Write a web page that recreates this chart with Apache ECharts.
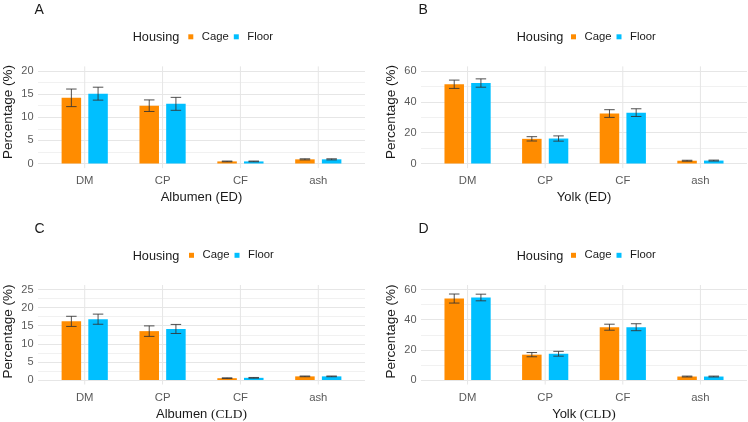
<!DOCTYPE html>
<html><head><meta charset="utf-8">
<script src="https://cdn.jsdelivr.net/npm/echarts@6/dist/echarts.min.js"></script>
<style>html,body{margin:0;padding:0;background:#fff}#c{width:748px;height:422px}</style>
</head><body><div id="c"></div>
<script>
// ---- Data ----
const categories = ['DM', 'CP', 'CF', 'ash'];
const groupNames = ['Cage', 'Floor'];

// Panel A: Albumen (ED)
const albumenED_cage = [14.2, 12.5, 0.45, 0.9];
const albumenED_cage_sd = [1.9, 1.25, 0.08, 0.12];
const albumenED_floor = [15.1, 12.9, 0.45, 0.9];
const albumenED_floor_sd = [1.4, 1.4, 0.08, 0.12];
const yTicks_albumenED = [0, 5, 10, 15, 20];

// Panel B: Yolk (ED)
const yolkED_cage = [51.4, 16.0, 32.4, 1.8];
const yolkED_cage_sd = [2.7, 1.4, 2.5, 0.3];
const yolkED_floor = [52.2, 16.2, 33.0, 1.9];
const yolkED_floor_sd = [2.7, 1.7, 2.5, 0.3];
const yTicks_yolkED = [0, 20, 40, 60];

// Panel C: Albumen (CLD)
const albumenCLD_cage = [16.2, 13.5, 0.5, 1.0];
const albumenCLD_cage_sd = [1.4, 1.45, 0.1, 0.1];
const albumenCLD_floor = [16.8, 14.1, 0.6, 1.0];
const albumenCLD_floor_sd = [1.4, 1.25, 0.1, 0.1];
const yTicks_albumenCLD = [0, 5, 10, 15, 20, 25];

// Panel D: Yolk (CLD)
const yolkCLD_cage = [54.0, 16.8, 35.0, 2.3];
const yolkCLD_cage_sd = [3.0, 1.4, 2.0, 0.3];
const yolkCLD_floor = [54.7, 17.4, 35.0, 2.3];
const yolkCLD_floor_sd = [2.2, 1.6, 2.3, 0.3];
const yTicks_yolkCLD = [0, 20, 40, 60];

const yTitle = 'Percentage (%)';
const legendTitle = 'Housing';

// ---- Styling ----
const FONT = '"Liberation Sans", Arial, sans-serif';
const SERIF = '"Liberation Serif", "Times New Roman", serif';
const COLORS = ['#FF8C00', '#00BFFF'];
const BAR_W = 19.5, BAR_GAP_PX = 7.2;
const OFFSET = (BAR_W + BAR_GAP_PX) / 2;
const CAP_W = 10.5;

const panels = [
  { letter: 'A', xName: 'Albumen (ED)', rich: false, yTicks: yTicks_albumenED,
    vals: [albumenED_cage, albumenED_floor], sds: [albumenED_cage_sd, albumenED_floor_sd],
    grid: { left: 38, top: 71, width: 327, height: 92.5 }, letterPos: [34.5, 3.5], housingPos: [132.7, 37.8], legendPos: [188.3, 31.3], yTitlePos: [8.3, 112] },
  { letter: 'B', xName: 'Yolk (ED)', rich: false, yTicks: yTicks_yolkED,
    vals: [yolkED_cage, yolkED_floor], sds: [yolkED_cage_sd, yolkED_floor_sd],
    grid: { left: 421, top: 71, width: 326, height: 92.5 }, letterPos: [418.5, 3.5], housingPos: [516.7, 37.8], legendPos: [571, 31.3], yTitlePos: [391.5, 112] },
  { letter: 'C', xName: 'Albumen', rich: true, yTicks: yTicks_albumenCLD,
    vals: [albumenCLD_cage, albumenCLD_floor], sds: [albumenCLD_cage_sd, albumenCLD_floor_sd],
    grid: { left: 38, top: 289.5, width: 327, height: 92.5 }, letterPos: [34.5, 222], housingPos: [132.7, 256.3], legendPos: [189, 249.8], yTitlePos: [8.3, 331.5] },
  { letter: 'D', xName: 'Yolk', rich: true, yTicks: yTicks_yolkCLD,
    vals: [yolkCLD_cage, yolkCLD_floor], sds: [yolkCLD_cage_sd, yolkCLD_floor_sd],
    grid: { left: 421, top: 289.5, width: 326, height: 92.5 }, letterPos: [418.5, 222], housingPos: [516.7, 256.3], legendPos: [571, 249.8], yTitlePos: [391.5, 331.5] }
];

const option = {
  animation: false,
  backgroundColor: '#ffffff',
  grid: [], xAxis: [], yAxis: [], series: [], legend: [], graphic: []
};

panels.forEach((p, k) => {
  option.grid.push(Object.assign({ containLabel: false }, p.grid));
  option.xAxis.push({
    type: 'value', gridIndex: k, min: 0.4, max: 4.6,
    axisLine: { show: false }, axisTick: { show: false }, splitLine: { show: false },
    axisLabel: {
      customValues: categories.map((c, i) => i + 1),
      formatter: v => (Math.abs(v - Math.round(v)) < 1e-6 && categories[Math.round(v) - 1]) || '',
      margin: 12, color: '#5a5a5a', fontSize: 11.3, fontFamily: FONT
    },
    name: p.rich ? '{a|' + p.xName + ' }{b|(CLD)}' : p.xName,
    nameLocation: 'middle', nameGap: 27,
    nameTextStyle: p.rich ? {
      rich: {
        a: { fontSize: 13, fontFamily: FONT, color: '#1a1a1a' },
        b: { fontSize: 13.5, fontFamily: SERIF, color: '#1a1a1a' }
      }
    } : { fontSize: 13, fontFamily: FONT, color: '#1a1a1a' }
  });
  const yt = p.yTicks;
  option.yAxis.push({
    type: 'value', gridIndex: k, min: yt[0], max: yt[yt.length - 1], interval: yt[1] - yt[0],
    axisLine: { show: false }, axisTick: { show: false },
    axisLabel: { margin: 4.5, color: '#5a5a5a', fontSize: 11, fontFamily: FONT },
    splitLine: { show: true, lineStyle: { color: '#e6e6e6', width: 1 } },
    minorTick: { show: false, splitNumber: 2 },
    minorSplitLine: { show: true, lineStyle: { color: '#f1f1f1', width: 1 } }
  });

  const yMin = yt[0], yMax = yt[yt.length - 1];
  option.series.push({
    type: 'custom', xAxisIndex: k, yAxisIndex: k, silent: true, z: 0, clip: false,
    data: categories.map((c, i) => [i + 1]),
    renderItem: (params, api) => {
      const a = api.coord([api.value(0), yMin]);
      const b = api.coord([api.value(0), yMax]);
      const ext = (a[1] - b[1]) * 0.05;
      return { type: 'line', shape: { x1: a[0], y1: a[1] + ext, x2: b[0], y2: b[1] - ext },
               style: { stroke: '#e6e6e6', lineWidth: 1 } };
    }
  });

  groupNames.forEach((g, s) => {
    option.series.push({
      type: 'bar', name: g, xAxisIndex: k, yAxisIndex: k, z: 2,
      barWidth: BAR_W, barGap: (BAR_GAP_PX / BAR_W * 100).toFixed(1) + '%',
      itemStyle: { color: COLORS[s] },
      data: categories.map((c, i) => [i + 1, p.vals[s][i]])
    });
  });

  const ebData = [];
  groupNames.forEach((g, s) => {
    categories.forEach((c, i) => {
      ebData.push([i + 1, p.vals[s][i] - p.sds[s][i], p.vals[s][i] + p.sds[s][i], s === 0 ? -1 : 1]);
    });
  });
  option.series.push({
    type: 'custom', xAxisIndex: k, yAxisIndex: k, silent: true, z: 5, clip: false,
    data: ebData,
    renderItem: (params, api) => {
      const lo = api.coord([api.value(0), api.value(1)]);
      const hi = api.coord([api.value(0), api.value(2)]);
      const x = lo[0] + api.value(3) * OFFSET;
      const st = { stroke: '#333333', lineWidth: 1, opacity: 0.85 };
      return { type: 'group', children: [
        { type: 'line', shape: { x1: x, y1: lo[1], x2: x, y2: hi[1] }, style: st },
        { type: 'line', shape: { x1: x - CAP_W / 2, y1: lo[1], x2: x + CAP_W / 2, y2: lo[1] }, style: st },
        { type: 'line', shape: { x1: x - CAP_W / 2, y1: hi[1], x2: x + CAP_W / 2, y2: hi[1] }, style: st }
      ] };
    }
  });

  option.legend.push({
    data: groupNames, left: p.legendPos[0], top: p.legendPos[1], orient: 'horizontal',
    itemWidth: 5, itemHeight: 5, itemGap: 5, icon: 'rect', padding: 0, selectedMode: false,
    textStyle: { fontSize: 11.3, fontFamily: FONT, color: '#1a1a1a', padding: [0, 0, 0, 3.5] }
  });

  option.graphic.push({
    type: 'text', x: p.letterPos[0], y: p.letterPos[1], silent: true,
    style: { text: p.letter, font: '14px ' + FONT, fill: '#1a1a1a', align: 'left', verticalAlign: 'top' }
  });
  option.graphic.push({
    type: 'text', x: p.housingPos[0], y: p.housingPos[1], silent: true,
    style: { text: legendTitle, font: '12.7px ' + FONT, fill: '#1a1a1a', align: 'left', verticalAlign: 'middle' }
  });
  option.graphic.push({
    type: 'text', x: p.yTitlePos[0], y: p.yTitlePos[1], rotation: Math.PI / 2, silent: true,
    style: { text: yTitle, font: '13.5px ' + FONT, fill: '#1a1a1a', align: 'center', verticalAlign: 'middle' }
  });
});

const chart = echarts.init(document.getElementById('c'));
chart.setOption(option);
</script>
</body></html>
